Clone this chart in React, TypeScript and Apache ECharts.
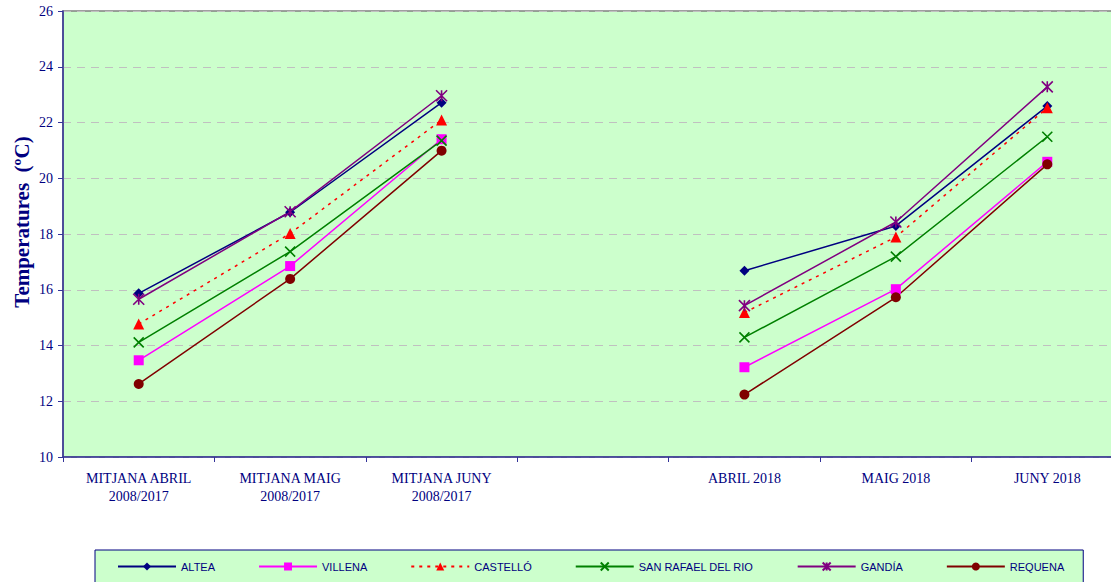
import React, { useEffect, useRef } from "react";
import * as echarts from "echarts";

const categories = [
  "MITJANA ABRIL\n2008/2017",
  "MITJANA MAIG\n2008/2017",
  "MITJANA JUNY\n2008/2017",
  "",
  "ABRIL 2018",
  "MAIG 2018",
  "JUNY 2018",
];

const altea = [15.87, 18.78, 22.71, null, 16.68, 18.29, 22.59];
const villena = [13.47, 16.85, 21.4, null, 13.22, 16.02, 20.59];
const castello = [14.77, 18.02, 22.09, null, 15.18, 17.89, 22.53];
const sanRafael = [14.11, 17.37, 21.35, null, 14.29, 17.19, 21.49];
const gandia = [15.66, 18.8, 22.96, null, 15.43, 18.43, 23.28];
const requena = [12.62, 16.39, 20.99, null, 12.24, 15.73, 20.5];

const yTitle = "Temperatures  (ºC)";

const NAVY = "#000080";

export default function App() {
  const ref = useRef<HTMLDivElement>(null);
  useEffect(() => {
    if (!ref.current) return;
    const chart = echarts.init(ref.current, undefined, { renderer: "svg" });
    const mk = (
      name: string,
      data: (number | null)[],
      color: string,
      symbol: string,
      symbolSize: number,
      dashed = false,
      stroked = false
    ) => ({
      name,
      type: "line",
      data,
      connectNulls: false,
      symbol,
      symbolSize,
      lineStyle: { color, width: 1.5, type: dashed ? [3, 5] : "solid" },
      itemStyle: stroked
        ? { color: "transparent", borderColor: color, borderWidth: 1.6 }
        : { color, borderColor: color, borderWidth: 0 },
      emphasis: { disabled: true },
    });
    chart.setOption({
      animation: false,
      grid: {
        left: 63,
        right: 2,
        top: 11,
        bottom: 125,
        show: true,
        backgroundColor: "#CCFFCC",
        borderColor: "#808080",
        borderWidth: 1.5,
      },
      graphic: [
        {
          type: "text",
          x: 22,
          y: 222,
          rotation: Math.PI / 2,
          style: {
            text: yTitle,
            fill: NAVY,
            fontSize: 21,
            fontWeight: "bold",
            fontFamily: "Liberation Serif, Times New Roman, serif",
            textAlign: "center",
            textVerticalAlign: "middle",
          },
        },
      ],
      legend: {
        left: 95,
        top: 550,
        padding: [11, 19, 12, 22],
        backgroundColor: "#CCFFCC",
        borderColor: NAVY,
        borderWidth: 1,
        borderRadius: 0,
        itemWidth: 58,
        itemHeight: 10,
        itemGap: 43,
        textStyle: {
          fontFamily: "Liberation Sans, Arial, sans-serif",
          fontSize: 11,
          color: NAVY,
        },
      },
      xAxis: {
        type: "category",
        data: categories,
        boundaryGap: true,
        axisLine: { show: true, lineStyle: { color: "#333399", width: 1.5 } },
        axisTick: { show: true, length: 5, lineStyle: { color: "#333399" } },
        axisLabel: {
          interval: 0,
          margin: 12,
          color: NAVY,
          fontFamily: "Liberation Serif, Times New Roman, serif",
          fontSize: 14,
          lineHeight: 18,
        },
        splitLine: { show: false },
      },
      yAxis: {
        type: "value",
        min: 10,
        max: 26,
        interval: 2,
        axisLine: { show: true, lineStyle: { color: "#333399", width: 1.5 } },
        axisTick: { show: true, length: 5, lineStyle: { color: "#333399" } },
        axisLabel: {
          margin: 10,
          color: NAVY,
          fontFamily: "Liberation Serif, Times New Roman, serif",
          fontSize: 14,
        },
        splitLine: {
          show: true,
          lineStyle: { color: "#C0C0C0", type: [8, 6], width: 1 },
        },
      },
      series: [
        mk("ALTEA", altea, "#000080", "diamond", 10),
        mk("VILLENA", villena, "#FF00FF", "rect", 10),
        mk("CASTELLÓ", castello, "#FF0000", "triangle", 11, true),
        mk("SAN RAFAEL DEL RIO", sanRafael, "#008000", "path://M0,0L10,10M10,0L0,10", 10, false, true),
        mk("GANDÍA", gandia, "#800080", "path://M0,0L10,10M10,0L0,10M5,0L5,10", 11, false, true),
        mk("REQUENA", requena, "#800000", "circle", 10),
      ],
    });
    return () => chart.dispose();
  }, []);
  return (
    <div
      style={{
        position: "fixed",
        left: 0,
        top: 0,
        width: 1111,
        height: 582,
        overflow: "hidden",
        background: "#fff",
      }}
    >
      <div ref={ref} style={{ width: 1125, height: 582 }} />
    </div>
  );
}
